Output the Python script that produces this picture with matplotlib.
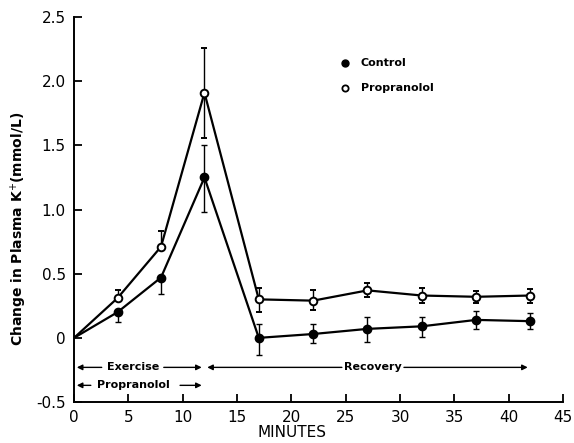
import matplotlib
matplotlib.use("Agg")
import matplotlib.pyplot as plt

# data
minutes = [0, 4, 8, 12, 17, 22, 27, 32, 37, 42]
control = [0, 0.20, 0.47, 1.25, 0.00, 0.03, 0.07, 0.09, 0.14, 0.13]
control_lo = [0, 0.08, 0.13, 0.27, 0.13, 0.07, 0.10, 0.08, 0.07, 0.06]
control_hi = [0, 0.00, 0.00, 0.25, 0.11, 0.08, 0.09, 0.07, 0.07, 0.06]
propranolol = [0, 0.31, 0.71, 1.91, 0.30, 0.29, 0.37, 0.33, 0.32, 0.33]
propranolol_lo = [0, 0.00, 0.00, 0.35, 0.10, 0.07, 0.055, 0.055, 0.05, 0.06]
propranolol_hi = [0, 0.06, 0.12, 0.35, 0.09, 0.08, 0.055, 0.055, 0.045, 0.05]

yticks = [-0.5, 0, 0.5, 1.0, 1.5, 2.0, 2.5]
ytick_labels = ["-0.5", "0", "0.5", "1.0", "1.5", "2.0", "2.5"]
xticks = list(range(0, 50, 5))

fig = plt.figure(figsize=(5.74, 4.43), dpi=100)
ax = fig.add_axes([0.129, 0.0925, 0.852, 0.869])

# lines start at the origin, no marker there
ax.plot(minutes, propranolol, color="black", lw=1.6, zorder=2)
ax.plot(minutes, control, color="black", lw=1.6, zorder=2)
ax.errorbar(minutes[1:], propranolol[1:], yerr=[propranolol_lo[1:], propranolol_hi[1:]],
            fmt="o", color="black", ms=5.5, mfc="white", mec="black",
            mew=1.4, elinewidth=1.0, capsize=2.5, zorder=3)
ax.errorbar(minutes[1:], control[1:], yerr=[control_lo[1:], control_hi[1:]],
            fmt="o", color="black", ms=6, mfc="black", mec="black",
            elinewidth=1.0, capsize=2.5, zorder=3)

ax.set_xlim(0, 45)
ax.set_ylim(-0.5, 2.5)
ax.set_xticks(xticks)
ax.set_xticklabels([str(t) for t in xticks])
ax.set_yticks(yticks)
ax.set_yticklabels(ytick_labels)
ax.tick_params(direction="in", length=6, width=1.3, labelsize=11, pad=6)
for s in ["top", "right"]:
    ax.spines[s].set_visible(False)
for s in ["left", "bottom"]:
    ax.spines[s].set_linewidth(1.4)

ax.set_ylabel("Change in Plasma K$^{+}$(mmol/L)", fontsize=10, fontweight="bold")
ax.yaxis.set_label_coords(-0.092, 0.45)
ax.set_xlabel("MINUTES", fontsize=11)
ax.xaxis.set_label_coords(0.445, -0.06)

# phase arrows
arr = dict(arrowstyle="-|>", color="black", lw=1.0, mutation_scale=8)
def span(x0, x1, y, label, xt):
    ax.annotate("", xy=(x0, y), xytext=(xt - 2.6, y), arrowprops=arr)
    ax.annotate("", xy=(x1, y), xytext=(xt + 2.6, y), arrowprops=arr)
    ax.text(xt, y, label, ha="center", va="center", fontsize=8, fontweight="bold")

span(0, 12, -0.23, "Exercise", 5.4)
span(12, 42, -0.23, "Recovery", 27.5)
ax.annotate("", xy=(0, -0.37), xytext=(1.8, -0.37), arrowprops=arr)
ax.text(5.5, -0.37, "Propranolol", ha="center", va="center", fontsize=8, fontweight="bold")
ax.annotate("", xy=(12, -0.37), xytext=(9.5, -0.37), arrowprops=arr)

# legend
ax.plot([24.9], [2.14], "o", color="black", ms=5)
ax.text(26.4, 2.14, "Control", va="center", fontsize=8, fontweight="bold")
ax.plot([24.9], [1.95], "o", mfc="white", mec="black", mew=1.3, ms=4.5)
ax.text(26.4, 1.95, "Propranolol", va="center", fontsize=8, fontweight="bold")

fig.savefig("out.png", dpi=100)
